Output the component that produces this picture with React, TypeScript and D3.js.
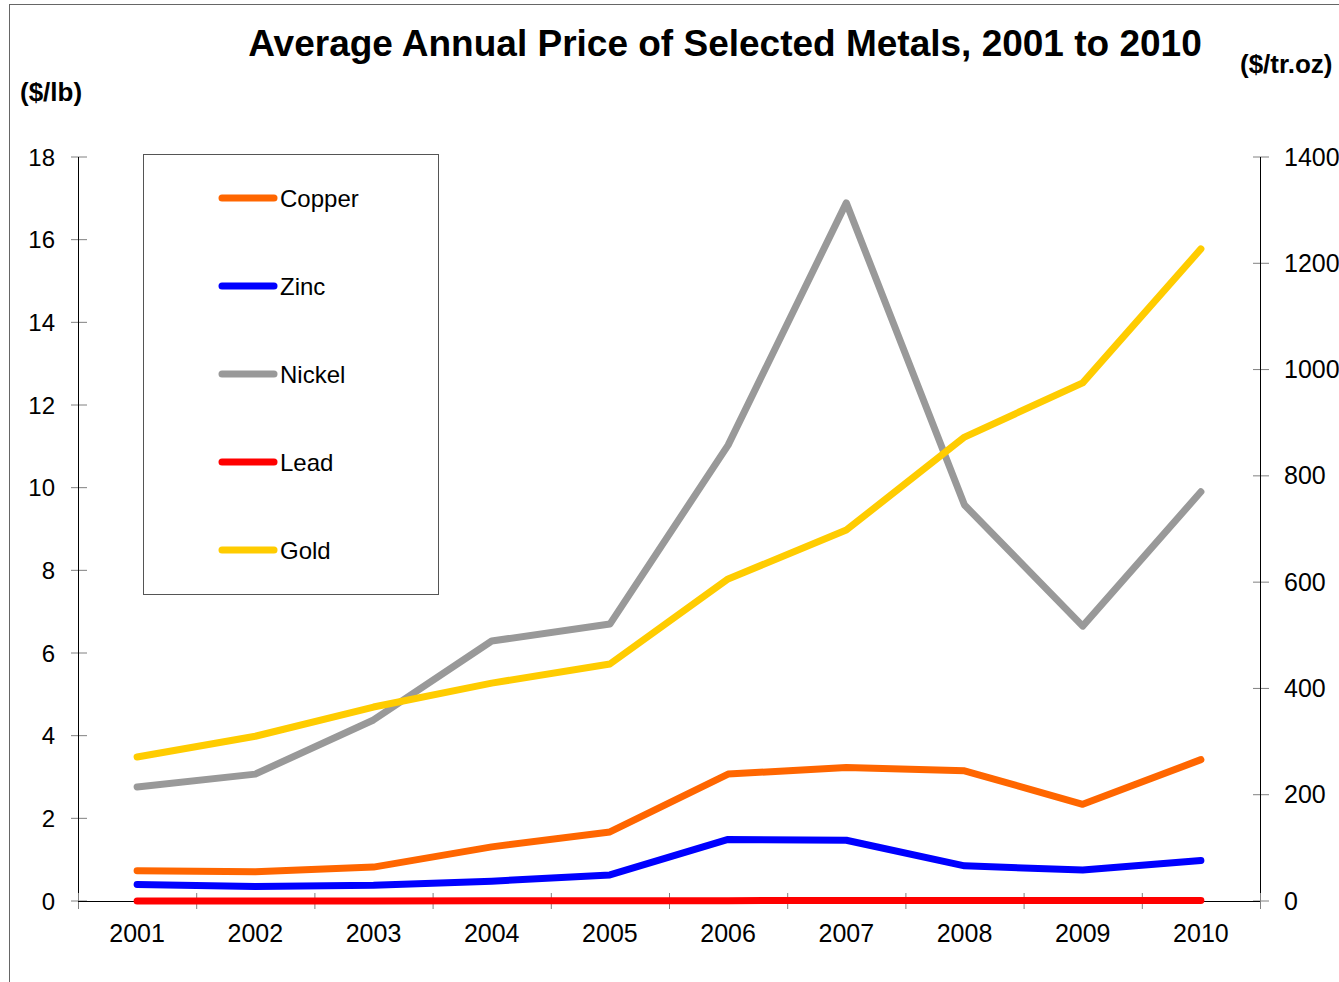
import React from "react";
import * as d3 from "d3";

const years = ["2001","2002","2003","2004","2005","2006","2007","2008","2009","2010"];
const copper = [0.73,0.71,0.82,1.31,1.67,3.07,3.23,3.15,2.34,3.42];
const zinc = [0.40,0.35,0.38,0.48,0.63,1.49,1.47,0.85,0.75,0.98];
const nickel = [2.76,3.07,4.38,6.29,6.70,11.03,16.89,9.58,6.65,9.90];
const lead = [0.22,0.22,0.23,0.40,0.44,0.58,1.17,0.94,0.78,0.97];
const gold = [271,310,365,410,446,606,698,873,975,1227];
const leftTicks = [0,2,4,6,8,10,12,14,16,18];
const rightTicks = [0,200,400,600,800,1000,1200,1400];

const series = [
  { name: "Copper", values: copper, color: "#FF6600", axis: "left" },
  { name: "Zinc", values: zinc, color: "#0000FF", axis: "left" },
  { name: "Nickel", values: nickel, color: "#999999", axis: "left" },
  { name: "Lead", values: lead, color: "#FF0000", axis: "right" },
  { name: "Gold", values: gold, color: "#FFCC00", axis: "right" },
];

const W = 1339, H = 982;
const L = 78, R = 1260, T = 157, B = 901;
const font = "Liberation Sans, Arial, sans-serif";

export default function App() {
  const x = d3.scaleBand<string>().domain(years).range([L, R]);
  const yL = d3.scaleLinear().domain([0, 18]).range([B, T]);
  const yR = d3.scaleLinear().domain([0, 1400]).range([B, T]);
  const line = (vals: number[], sc: d3.ScaleLinear<number, number>) =>
    d3.line<number>()
      .x((_, i) => (x(years[i]) as number) + x.bandwidth() / 2)
      .y((v) => sc(v))(vals) as string;
  const bounds = years.map((yy) => x(yy) as number).concat([R]);
  const legendOrder = ["Copper","Zinc","Nickel","Lead","Gold"];
  return (
    <svg width={W} height={H} style={{ position: "absolute", left: 0, top: 0, background: "#fff" }} fontFamily={font}>
      <rect x={9.5} y={4.5} width={W + 10} height={H + 10} fill="#fff" stroke="#666" strokeWidth={1} />
      <text x={725} y={56} textAnchor="middle" fontSize={37} fontWeight="bold">Average Annual Price of Selected Metals, 2001 to 2010</text>
      <text x={20} y={101} fontSize={26} fontWeight="bold">($/lb)</text>
      <text x={1240} y={73} fontSize={26} fontWeight="bold">($/tr.oz)</text>

      {/* left axis */}
      {leftTicks.map((t) => (
        <g key={"l" + t}>
          <line x1={71} x2={87} y1={yL(t)} y2={yL(t)} stroke="#808080" strokeWidth={1} />
          <text x={55} y={yL(t) + 8.5} textAnchor="end" fontSize={24}>{t}</text>
        </g>
      ))}
      <line x1={L + 0.5} x2={L + 0.5} y1={T} y2={B} stroke="#000" strokeWidth={1} />
      {/* right axis */}
      {rightTicks.map((t) => (
        <g key={"r" + t}>
          <line x1={1253} x2={1269} y1={yR(t)} y2={yR(t)} stroke="#808080" strokeWidth={1} />
          <text x={1284} y={yR(t) + 8.5} textAnchor="start" fontSize={25}>{t}</text>
        </g>
      ))}
      <line x1={R + 0.5} x2={R + 0.5} y1={T} y2={B} stroke="#000" strokeWidth={1} />
      {/* x axis */}
      {bounds.map((b, i) => (
        <line key={"x" + i} x1={b + 0.5} x2={b + 0.5} y1={893} y2={909} stroke="#808080" strokeWidth={1} />
      ))}
      <line x1={L} x2={R} y1={B + 0.5} y2={B + 0.5} stroke="#000" strokeWidth={1} />
      {years.map((yy) => (
        <text key={yy} x={(x(yy) as number) + x.bandwidth() / 2} y={942} textAnchor="middle" fontSize={25}>{yy}</text>
      ))}

      {series.map((s) => (
        <path key={s.name} d={line(s.values, s.axis === "left" ? yL : yR)} fill="none" stroke={s.color}
          strokeWidth={7} strokeLinecap="round" strokeLinejoin="round" />
      ))}

      {/* legend */}
      <rect x={143.5} y={154.5} width={295} height={440} fill="#fff" stroke="#555" strokeWidth={1} />
      {legendOrder.map((n, i) => {
        const s = series.find((q) => q.name === n)!;
        const ly = 198 + i * 88;
        return (
          <g key={"lg" + n}>
            <line x1={222} x2={274} y1={ly} y2={ly} stroke={s.color} strokeWidth={7} strokeLinecap="round" />
            <text x={280} y={ly + 8.5} fontSize={24}>{n}</text>
          </g>
        );
      })}
    </svg>
  );
}
